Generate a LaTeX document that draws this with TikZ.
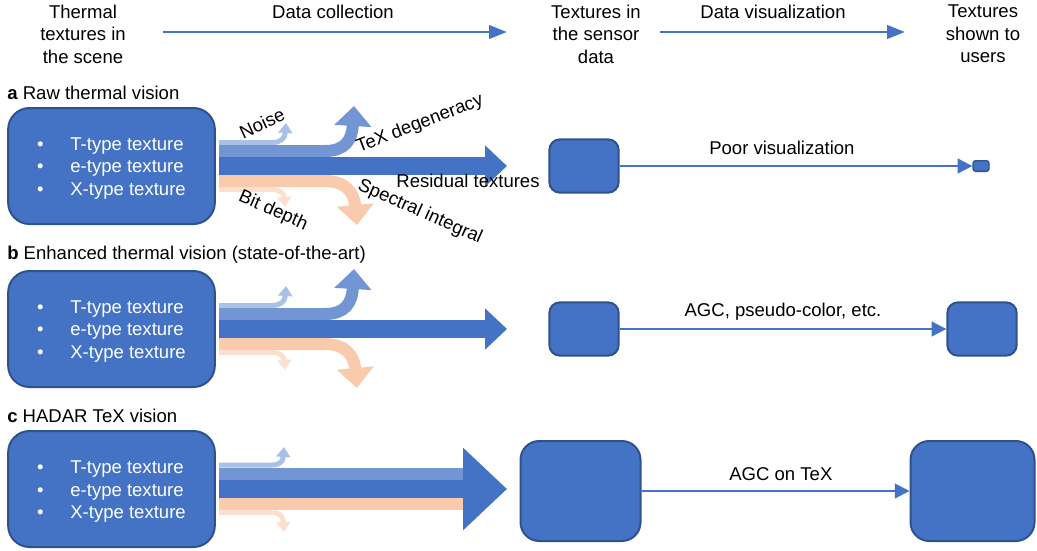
\documentclass[tikz,border=0pt]{standalone}
\usepackage{fontspec}
\setmainfont{Liberation Sans}
\usetikzlibrary{arrows.meta}

\definecolor{mainblue}{RGB}{68,114,196}
\definecolor{edgeblue}{RGB}{47,82,143}
\definecolor{midblue}{RGB}{114,150,212}
\definecolor{paleblue}{RGB}{170,193,231}
\definecolor{peach}{RGB}{248,203,173}
\definecolor{palepeach}{RGB}{251,224,207}

\tikzset{
	txt/.style={font=\fontsize{13.9}{16.8}\selectfont,inner sep=0pt,text=black},
	scenebox/.style={txt,draw=edgeblue,line width=1.5pt,fill=mainblue,rounded corners=16pt,minimum width=155pt,minimum height=87pt,text=white,align=left},
	databox/.style={draw=edgeblue,line width=1.5pt,fill=mainblue,rounded corners=8pt,inner sep=0pt},
	hdrarrow/.style={mainblue,line width=2.2pt,-{Triangle[length=13.5pt,width=10pt]}},
	visarrow/.style={mainblue,line width=1.5pt,-{Triangle[length=11pt,width=11pt]}},
	thinband/.style={line width=3.75pt,-{Triangle[length=7.5pt,width=10.5pt]}},
	wideband/.style={line width=9pt,-{Triangle[length=15pt,width=27pt]}},
	mainband/.style={mainblue,line width=13.5pt,-{Triangle[length=16.5pt,width=30pt]}}
}

\begin{document}
\begin{tikzpicture}[x=0.75pt,y=-0.75pt]
	\useasboundingbox (0,0) rectangle (1037,550);
	% header
	\node[txt,align=center] (scene) at (83,34) {Thermal\\textures in\\the scene};
	\node[txt,align=center] (sensor) at (596,34) {Textures in\\the sensor\\data};
	\node[txt,align=center] (users) at (983,34) {Textures\\shown to\\users};
	\node[txt] (collect) at (333,12) {Data collection};
	\node[txt] (visual) at (773,12) {Data visualization};
	\draw[hdrarrow,shorten <=60pt,shorten >=66.75pt] ([yshift=1.5pt]scene.center) -- ([yshift=1.5pt]sensor.center);
	\draw[hdrarrow,shorten <=48pt,shorten >=58.5pt] ([yshift=1.5pt]sensor.center) -- ([yshift=1.5pt]users.center);

	% section labels
	\node[txt,anchor=west] (labA) at (7,93) {\textbf{a} Raw thermal vision};
	\node[txt,anchor=west] (labB) at (7,255) {\textbf{b} Enhanced thermal vision (state-of-the-art)};
	\node[txt,anchor=west] (labC) at (7,416) {\textbf{c} HADAR TeX vision};

	% scene boxes
	\node[scenebox] (sceneA) at (111.5,166) {\textbullet\hspace{20pt}T-type texture\rule{0pt}{13pt}\\\textbullet\hspace{20pt}e-type texture\\\textbullet\hspace{20pt}X-type texture};
	\node[scenebox] (sceneB) at (111.5,329) {\textbullet\hspace{20pt}T-type texture\rule{0pt}{13pt}\\\textbullet\hspace{20pt}e-type texture\\\textbullet\hspace{20pt}X-type texture};
	\node[scenebox] (sceneC) at (111.5,489) {\textbullet\hspace{20pt}T-type texture\rule{0pt}{13.5pt}\\\textbullet\hspace{20pt}e-type texture\\\textbullet\hspace{20pt}X-type texture};

	% flows a and b
	\foreach \c in {166,329} {
		\draw[thinband,paleblue] (219,\c-23.5) -- (272,\c-23.5) .. controls (281,\c-23.5) and (285,\c-28) .. (286,\c-43);
		\draw[thinband,palepeach] (219,\c+23.5) -- (272,\c+23.5) .. controls (281,\c+23.5) and (284,\c+28) .. (285,\c+41);
		\draw[wideband,midblue] (219,\c-15) -- (325,\c-15) .. controls (345,\c-15) and (352,\c-26) .. (354,\c-60);
		\draw[wideband,peach] (219,\c+15) -- (325,\c+15) .. controls (345,\c+15) and (354,\c+26) .. (357,\c+59);
		\draw[mainband] (219,\c) -- (507,\c);
	}

	% flows c
	\draw[thinband,paleblue] (219,465) -- (272,465) .. controls (280,465) and (283,461) .. (284,447);
	\draw[thinband,palepeach] (219,512.5) -- (272,512.5) .. controls (280,512.5) and (283,516) .. (284,532);
	\draw[midblue,line width=9pt] (219,474) -- (466,474);
	\draw[peach,line width=9pt] (219,504) -- (466,504);
	\draw[mainblue,line width=13.5pt,-{Triangle[length=33pt,width=60pt]}] (219,489) -- (507,489);

	% flow labels
	\node[txt,rotate=25] (noise) at (262,123) {Noise};
	\node[txt,rotate=21] (degen) at (420,124) {TeX degeneracy};
	\node[txt] (resid) at (468,181) {Residual textures};
	\node[txt,rotate=-24] (bits) at (273,211) {Bit depth};
	\node[txt,rotate=-24] (spect) at (420,212) {Spectral integral};

	% sensor data and shown textures
	\node[databox,minimum width=52pt,minimum height=40pt] (sensorA) at (584,166) {};
	\node[databox,rounded corners=2pt,line width=1pt,minimum width=12pt,minimum height=8pt] (usersA) at (981,166) {};
	\draw[visarrow] (sensorA) -- (usersA) node[txt,pos=0.46,above=8pt] (poorA) {Poor visualization};

	\node[databox,minimum width=52pt,minimum height=40pt] (sensorB) at (584,329) {};
	\node[databox,minimum width=52pt,minimum height=40pt] (usersB) at (982,329) {};
	\draw[visarrow] (sensorB) -- (usersB) node[txt,pos=0.5,above=6pt] (agcB) {AGC, pseudo-color, etc.};

	\node[databox,rounded corners=14pt,minimum width=90pt,minimum height=75pt] (sensorC) at (580.5,491) {};
	\node[databox,rounded corners=14pt,minimum width=93pt,minimum height=75pt] (usersC) at (972.5,491) {};
	\draw[visarrow] (sensorC) -- (usersC) node[txt,pos=0.52,above=7pt] (agcC) {AGC on TeX};
\end{tikzpicture}
\end{document}
